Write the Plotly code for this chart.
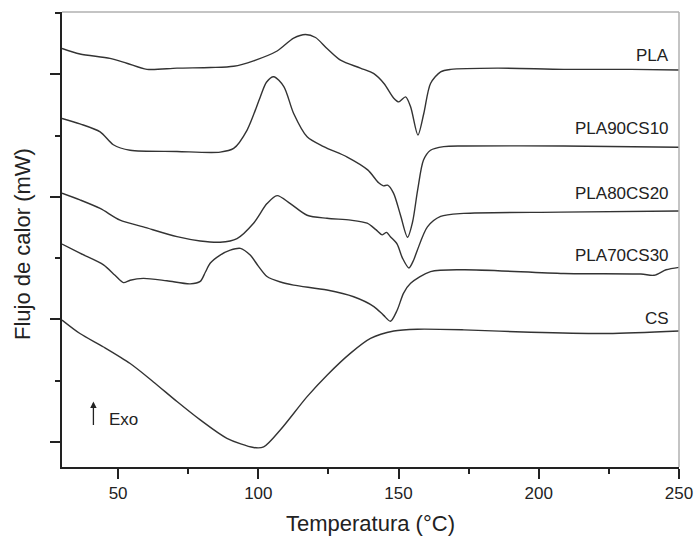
import plotly.graph_objects as go

# Temperature (°C) and heat flow (arbitrary offset units)
pla_t = [30, 36.4, 47.1, 53.1, 60.3, 71.0, 82.9, 91.2, 98.3, 106.7, 112.6, 116.8, 120.4, 124.5,
         129.3, 136.4, 141.2, 144.8, 148.3, 150.1, 152.5, 154.3, 156.9, 159.0, 161.4, 165.0,
         168.6, 185.2, 209.0, 232.9, 250]
pla_y = [6.42, 6.33, 6.26, 6.18, 6.08, 6.10, 6.11, 6.13, 6.22, 6.38, 6.59, 6.65, 6.60, 6.42,
         6.23, 6.10, 6.01, 5.85, 5.61, 5.55, 5.63, 5.47, 5.01, 5.36, 5.85, 6.04,
         6.08, 6.10, 6.08, 6.08, 6.07]

pla90_t = [30, 36.4, 43.6, 48.3, 54.3, 71.0, 86.4, 91.2, 96.0, 100.7, 102.9, 105.5, 109.1, 112.6,
           117.4, 123.3, 131.7, 139.0, 142.9, 144.6, 146.1, 148.2, 150.7, 153.2, 155.0, 156.8,
           158.9, 161.4, 166.1, 173.2, 208.9, 250]
pla90_y = [5.28, 5.19, 5.06, 4.85, 4.76, 4.74, 4.73, 4.79, 5.09, 5.63, 5.87, 5.96, 5.80, 5.36,
           4.98, 4.82, 4.65, 4.44, 4.23, 4.18, 4.19, 4.06, 3.70, 3.34, 3.59, 4.11,
           4.60, 4.76, 4.82, 4.83, 4.83, 4.81]

pla80_t = [30, 36.4, 43.6, 50.7, 59.0, 71.0, 79.3, 86.4, 92.4, 98.3, 103.1, 106.7, 111.4, 117.4,
           124.5, 132.9, 138.8, 141.8, 144.2, 145.7, 147.1, 149.5, 151.4, 153.7, 155.4, 156.7,
           160.3, 165.0, 173.2, 207.9, 250]
pla80_y = [4.06, 3.95, 3.81, 3.62, 3.51, 3.35, 3.28, 3.26, 3.32, 3.57, 3.89, 4.02, 3.89, 3.70,
           3.65, 3.62, 3.57, 3.47, 3.38, 3.42, 3.35, 3.23, 3.00, 2.84, 2.97, 3.13,
           3.51, 3.68, 3.73, 3.75, 3.77]

pla70_t = [30, 36.4, 44.8, 48.9, 51.9, 54.3, 59.0, 67.4, 75.7, 79.3, 81.1, 82.9, 86.4, 90.0, 93.6,
           97.1, 100.0, 103.1, 107.9, 112.6, 124.5, 134.0, 141.2, 144.6, 147.1, 149.5, 151.8,
           154.3, 161.4, 173.2, 208.9, 236.4, 241.1, 245.4, 250]
pla70_y = [3.23, 3.08, 2.89, 2.72, 2.60, 2.64, 2.67, 2.63, 2.58, 2.62, 2.77, 2.92, 3.05, 3.13, 3.16,
           3.05, 2.87, 2.70, 2.61, 2.56, 2.48, 2.37, 2.21, 2.07, 1.97, 2.15, 2.43,
           2.59, 2.78, 2.81, 2.75, 2.74, 2.72, 2.81, 2.85]

cs_t = [30, 36.4, 44.8, 54.3, 62.6, 71.0, 79.3, 88.8, 98.3, 101.9, 107.9, 117.4, 124.5, 132.9,
        140.0, 148.3, 156.7, 173.3, 197.1, 224.5, 250]
cs_y = [1.99, 1.77, 1.55, 1.28, 0.98, 0.66, 0.36, 0.06, -0.09, -0.08, 0.20, 0.74, 1.09, 1.45,
        1.69, 1.81, 1.84, 1.83, 1.79, 1.77, 1.81]

names = ["PLA", "PLA90CS10", "PLA80CS20", "PLA70CS30", "CS"]
series = [(pla_t, pla_y), (pla90_t, pla90_y), (pla80_t, pla80_y), (pla70_t, pla70_y), (cs_t, cs_y)]
label_y = [6.31, 5.12, 4.05, 3.04, 2.02]

x_ticks = [50, 100, 150, 200, 250]

LINE = "#333333"
FONT = "Liberation Sans, Arial, sans-serif"

fig = go.Figure()
for name, (t, y) in zip(names, series):
    fig.add_trace(go.Scatter(x=t, y=y, mode="lines", name=name,
                             line=dict(color=LINE, width=1.4, shape="spline", smoothing=0.8),
                             showlegend=False))

annotations = []
for name, ly in zip(names, label_y):
    annotations.append(dict(x=247.2, y=ly, xref="x", yref="y", text=name, showarrow=False,
                            xanchor="right", yanchor="middle",
                            font=dict(family=FONT, size=17, color="#222")))
# Exo arrow
annotations.append(dict(x=41.2, y=0.66, xref="x", yref="y", ax=0, ay=25, axref="pixel", ayref="pixel",
                        text="", showarrow=True, arrowhead=2, arrowsize=1, arrowwidth=1.3,
                        arrowcolor="#222"))
annotations.append(dict(x=46.0, y=0.36, xref="x", yref="y", text="Exo", showarrow=False,
                        xanchor="left", yanchor="middle",
                        font=dict(family=FONT, size=17, color="#222")))
# axis titles
annotations.append(dict(x=0.5, y=0, xref="paper", yref="paper", yshift=-56,
                        text="Temperatura (°C)", showarrow=False, xanchor="center", yanchor="middle",
                        font=dict(family=FONT, size=22, color="#222")))
annotations.append(dict(x=0, y=0.49, xref="paper", yref="paper", xshift=-40,
                        text="Flujo de calor (mW)", showarrow=False, textangle=-90,
                        xanchor="center", yanchor="middle",
                        font=dict(family=FONT, size=22, color="#222")))

fig.update_layout(
    width=695, height=536,
    margin=dict(l=62, r=16, t=12, b=69, autoexpand=False),
    paper_bgcolor="white", plot_bgcolor="white",
    annotations=annotations,
    shapes=[
        dict(type="line", xref="paper", yref="paper", x0=0, x1=1, y0=1, y1=1,
             line=dict(color="#b0b0b0", width=1.5)),
        dict(type="line", xref="paper", yref="paper", x0=1, x1=1, y0=0, y1=1,
             line=dict(color="#b0b0b0", width=1.5)),
    ],
    xaxis=dict(range=[30, 250], tickvals=x_ticks, ticks="outside", ticklen=10, tickwidth=1.5,
               tickcolor="#222", showline=True, linecolor="#222", linewidth=2,
               showgrid=False, zeroline=False, automargin=False,
               tickfont=dict(family=FONT, size=17, color="#222"),
               minor=dict(tickvals=[75, 125, 175, 225], ticks="outside", ticklen=5,
                          tickwidth=1.5, tickcolor="#222", showgrid=False)),
    yaxis=dict(range=[-0.408, 7.016], tick0=0, dtick=2, ticks="outside", ticklen=10, tickwidth=1.5,
               tickcolor="#222", showline=True, linecolor="#222", linewidth=2,
               showgrid=False, zeroline=False, showticklabels=False, automargin=False,
               minor=dict(tick0=1, dtick=2, ticks="outside", ticklen=5,
                          tickwidth=1.5, tickcolor="#222", showgrid=False)),
)

fig.write_html("out.html", config={"displayModeBar": False},
               post_script="document.body.style.margin='0';document.body.style.overflow='hidden';")
